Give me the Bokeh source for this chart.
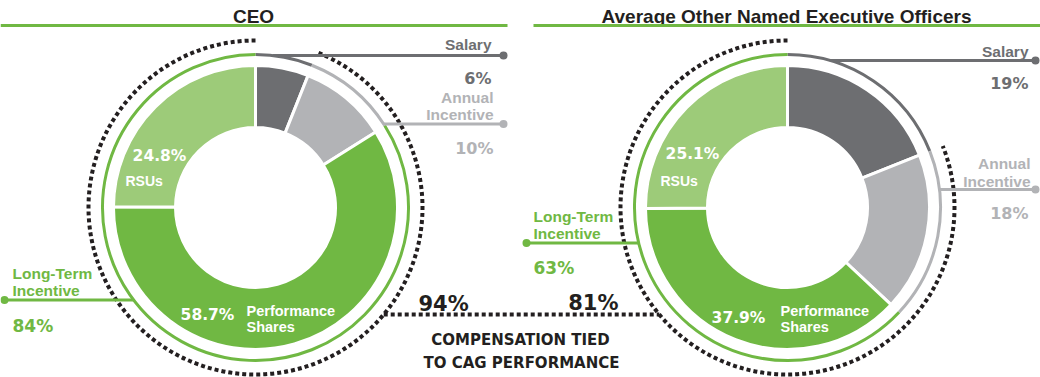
import numpy as np
from bokeh.plotting import figure
from bokeh.models import Range1d
from bokeh.core.properties import value
from bokeh.embed import file_html
from bokeh.resources import INLINE

# ---------------- data ----------------
panel_titles = ["CEO", "Average Other Named Executive Officers"]
pay_elements = ["Salary", "Annual Incentive", "Long-Term Incentive"]
ceo_pay_mix = [6, 10, 84]
neo_pay_mix = [19, 18, 63]
lti_vehicles = ["Performance Shares", "RSUs"]
ceo_lti_mix = [58.7, 24.8]
neo_lti_mix = [37.9, 25.1]
tied_to_performance = [94, 81]
footnote_lines = ["COMPENSATION TIED", "TO CAG PERFORMANCE"]

# ---------------- style ----------------
GREEN = "#70b843"
LIGHT_GREEN = "#9dcb79"
DARK_GRAY = "#6d6e71"
LIGHT_GRAY = "#b2b3b6"
INK = "#231f20"
SANS = value("Liberation Sans")
NUM = value("DejaVu Sans")

W, H = 1040, 377
SX = SY = 1.0
R_IN, R_OUT, R_RING, R_DOT = 80, 142, 153, 167


def Y(ref_y):
    return H - ref_y


p = figure(width=W, height=H, x_range=Range1d(0, W), y_range=Range1d(0, H),
           output_backend="svg", toolbar_location=None,
           x_axis_location=None, y_axis_location=None,
           min_border=0, outline_line_color=None)
p.grid.visible = False
p.background_fill_color = "white"


def txt(x, y_ref, s, font, size, color, align):
    p.text(x=[x], y=[Y(y_ref)], text=[s], text_font=font,
           text_font_size=value(f"{size}px"), text_font_style="bold",
           text_color=color, text_align=align, text_baseline="alphabetic")


def circle_x(cx, cy_ref, y_ref, r_screen, side):
    dy = (y_ref - cy_ref) * SY
    dx = np.sqrt(max(r_screen ** 2 - dy ** 2, 0.0)) / SX
    return cx + side * dx


def leader(cx, cy_ref, y_ref, x_end, color):
    side = 1 if x_end > cx else -1
    x0 = circle_x(cx, cy_ref, y_ref, R_RING, side)
    p.line(x=[x0, x_end], y=[Y(y_ref), Y(y_ref)], line_color=color, line_width=3)
    p.scatter(x=[x_end], y=[Y(y_ref)], size=8, marker="circle",
              fill_color=color, line_color=None)


def donut(cx, cy_ref, pay_mix, lti_mix, tied):
    cy = Y(cy_ref)
    # dotted circle: portion tied to performance
    p.arc(x=cx, y=cy, radius=R_DOT, radius_units="screen",
          start_angle=np.radians(90), end_angle=np.radians(90 - 360 * (1 - tied / 100)),
          direction="anticlock", line_color=INK, line_width=4, line_dash="4 3")
    # outer ring by pay element
    cum = np.cumsum([0] + pay_mix) / 100.0
    p.arc(x=cx, y=cy, radius=R_RING, radius_units="screen",
          start_angle=list(np.radians(90 - 360 * cum[:-1])),
          end_angle=list(np.radians(90 - 360 * cum[1:])),
          direction="clock", line_color=[DARK_GRAY, LIGHT_GRAY, GREEN], line_width=3)
    # inner wedges
    vals = [pay_mix[0], pay_mix[1], lti_mix[0], lti_mix[1]]
    frac = np.cumsum([0] + vals) / float(sum(vals))
    p.annular_wedge(x=cx, y=cy, inner_radius=R_IN, outer_radius=R_OUT,
                    inner_radius_units="screen", outer_radius_units="screen",
                    start_angle=list(np.radians(90 - 360 * frac[:-1])),
                    end_angle=list(np.radians(90 - 360 * frac[1:])),
                    direction="clock",
                    fill_color=[DARK_GRAY, LIGHT_GRAY, GREEN, LIGHT_GREEN],
                    line_color="white", line_width=3)


CY = 207
# ---------------- CEO ----------------
cx = 255
donut(cx, CY, ceo_pay_mix, ceo_lti_mix, tied_to_performance[0])
txt(253, 16, panel_titles[0], SANS, 19, INK, "center")
p.line(x=[0, 507], y=[Y(25), Y(25)], line_color=GREEN, line_width=3)
txt(491, 44, pay_elements[0], SANS, 15.5, DARK_GRAY, "right")
leader(cx, CY, 55, 503, DARK_GRAY)
txt(491, 77.5, f"{ceo_pay_mix[0]}%", NUM, 16, DARK_GRAY, "right")
txt(493, 97, "Annual", SANS, 15.5, LIGHT_GRAY, "right")
txt(493, 113.5, "Incentive", SANS, 15.5, LIGHT_GRAY, "right")
leader(cx, CY, 123.5, 503, LIGHT_GRAY)
txt(493, 148, f"{ceo_pay_mix[1]}%", NUM, 16, LIGHT_GRAY, "right")
txt(12, 273, "Long-Term", SANS, 15.5, GREEN, "left")
txt(12, 290, "Incentive", SANS, 15.5, GREEN, "left")
leader(cx, CY, 299.5, 4, GREEN)
txt(12, 325, f"{ceo_pay_mix[2]}%", NUM, 17, GREEN, "left")
txt(159, 155, f"{ceo_lti_mix[1]}%", NUM, 15.5, "white", "center")
txt(125, 180.5, lti_vehicles[1], SANS, 14, "white", "left")
txt(207, 314, f"{ceo_lti_mix[0]}%", NUM, 15.5, "white", "center")
txt(246, 310.5, "Performance", SANS, 14.5, "white", "left")
txt(246, 326.5, "Shares", SANS, 14.5, "white", "left")
txt(418, 303, f"{tied_to_performance[0]}%", NUM, 21, INK, "left")

# ---------------- NEO ----------------
cx = 787
donut(cx, CY, neo_pay_mix, neo_lti_mix, tied_to_performance[1])
txt(786, 16, panel_titles[1], SANS, 19, INK, "center")
p.line(x=[533, 1040], y=[Y(25), Y(25)], line_color=GREEN, line_width=3)
txt(1028, 50.5, pay_elements[0], SANS, 15.5, DARK_GRAY, "right")
leader(cx, CY, 60, 1035, DARK_GRAY)
txt(1028, 83, f"{neo_pay_mix[0]}%", NUM, 16, DARK_GRAY, "right")
txt(1030, 163, "Annual", SANS, 15.5, LIGHT_GRAY, "right")
txt(1030, 181, "Incentive", SANS, 15.5, LIGHT_GRAY, "right")
leader(cx, CY, 189, 1035, LIGHT_GRAY)
txt(1028, 213, f"{neo_pay_mix[1]}%", NUM, 16, LIGHT_GRAY, "right")
txt(533, 216, "Long-Term", SANS, 15.5, GREEN, "left")
txt(533, 233, "Incentive", SANS, 15.5, GREEN, "left")
leader(cx, CY, 242.5, 526, GREEN)
txt(533, 267, f"{neo_pay_mix[2]}%", NUM, 17, GREEN, "left")
txt(692, 153, f"{neo_lti_mix[1]}%", NUM, 15.5, "white", "center")
txt(660, 180.5, lti_vehicles[1], SANS, 14, "white", "left")
txt(738, 317, f"{neo_lti_mix[0]}%", NUM, 15.5, "white", "center")
txt(780, 310.5, "Performance", SANS, 14.5, "white", "left")
txt(780, 326.5, "Shares", SANS, 14.5, "white", "left")
txt(618, 302, f"{tied_to_performance[1]}%", NUM, 21, INK, "right")

# ---------------- connector + footnote ----------------
xa = circle_x(255, CY, 314, R_DOT, 1)
xb = circle_x(787, CY, 314, R_DOT, -1)
p.line(x=[xa, xb], y=[Y(314), Y(314)], line_color=INK, line_width=4, line_dash="4 3")
txt(520, 339, footnote_lines[0], NUM, 15, INK, "center")
txt(521, 362, footnote_lines[1], NUM, 15, INK, "center")

open("out.html", "w").write(file_html(p, INLINE))
